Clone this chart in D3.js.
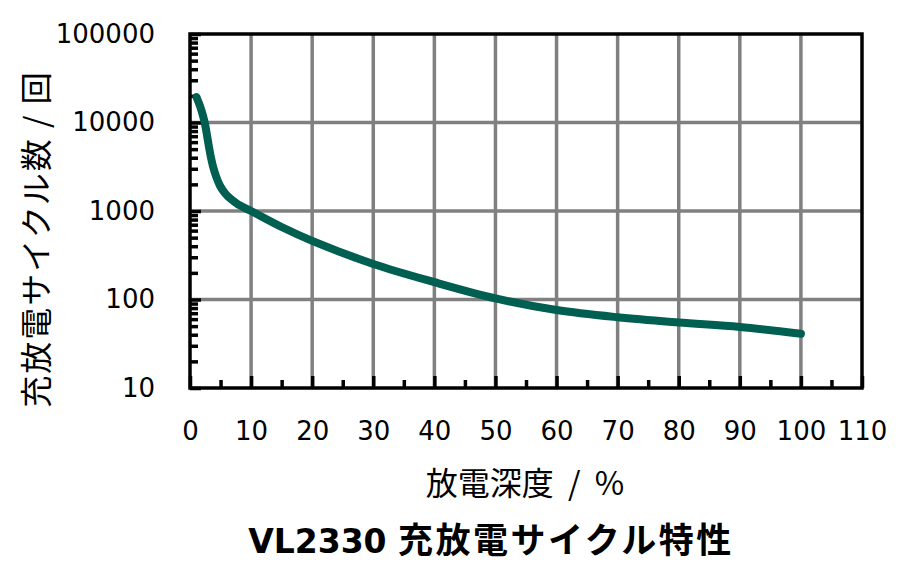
<!DOCTYPE html>
<html>
<head>
<meta charset="utf-8">
<script src="https://cdn.jsdelivr.net/npm/d3@7"></script>
<style>
  body { margin: 0; background: #fff; }
  svg { display: block; }
  .tick text { font-family: "DejaVu Sans", sans-serif; font-size: 26px; fill: #000; }
  .jp { font-family: "Noto Sans CJK JP", sans-serif; white-space: pre; }
</style>
</head>
<body>
<div id="chart-container"></div>
<script>
// charge/discharge cycle life vs depth of discharge
const depth = [1.06, 1.64, 2.13, 2.46, 2.78, 3.11, 3.44, 3.76, 4.26, 4.91, 5.73, 6.55, 7.86, 10, 15, 20, 30, 40, 50, 60, 70, 80, 90, 100];
const cycles = [19400, 15300, 11900, 9600, 7200, 5280, 4000, 3200, 2470, 1930, 1590, 1390, 1190, 1000, 660, 460, 252, 157, 103, 76, 63, 55, 49, 41];

const xTicks = [0, 10, 20, 30, 40, 50, 60, 70, 80, 90, 100, 110];
const xMinor = [5, 15, 25, 35, 45, 55, 65, 75, 85, 95, 105];
const yTicks = [10, 100, 1000, 10000, 100000];

const svgWidth = 900;
const svgHeight = 571;
const margin = { top: 34, right: 38, bottom: 183, left: 190 };
const width = svgWidth - margin.left - margin.right;
const height = svgHeight - margin.top - margin.bottom;

const svg = d3.select("#chart-container")
    .append("svg")
    .attr("width", svgWidth)
    .attr("height", svgHeight)
    .append("g")
    .attr("transform", `translate(${margin.left},${margin.top})`);

const x = d3.scaleLinear().domain([0, 110]).range([0, width]);
const y = d3.scaleLog().domain([10, 100000]).range([height, 0]);

// y minor ticks 2..9 per decade
const yMinor = [];
yTicks.slice(0, -1).forEach(d => {
    for (let k = 2; k <= 9; k++) yMinor.push(d * k);
});

// grid
svg.append("g")
    .selectAll("line.v")
    .data(xTicks.filter(d => d > 0 && d < 110))
    .join("line")
    .attr("x1", d => x(d)).attr("x2", d => x(d))
    .attr("y1", 0).attr("y2", height)
    .attr("stroke", "#808080").attr("stroke-width", 3.5);

svg.append("g")
    .selectAll("line.h")
    .data(yTicks.filter(d => d > 10 && d < 100000))
    .join("line")
    .attr("x1", 0).attr("x2", width)
    .attr("y1", d => y(d)).attr("y2", d => y(d))
    .attr("stroke", "#808080").attr("stroke-width", 3.5);

// axes
const yAxis = svg.append("g")
    .call(d3.axisLeft(y).tickValues(yTicks).tickFormat(d3.format("d")).tickSize(-11).tickPadding(35));
const yAxisMinor = svg.append("g")
    .call(d3.axisLeft(y).tickValues(yMinor).tickFormat("").tickSize(-8));

const xAxis = svg.append("g")
    .attr("transform", `translate(0,${height})`)
    .call(d3.axisBottom(x).tickValues(xTicks).tickSize(-12).tickPadding(34));
const xAxisMinor = svg.append("g")
    .attr("transform", `translate(0,${height})`)
    .call(d3.axisBottom(x).tickValues(xMinor).tickFormat("").tickSize(-8));

[yAxis, yAxisMinor, xAxis, xAxisMinor].forEach(g => {
    g.select(".domain").remove();
    g.selectAll(".tick line").attr("stroke", "#000").attr("stroke-width", 3.5);
});

// frame
svg.append("rect")
    .attr("x", 0).attr("y", 0)
    .attr("width", width).attr("height", height)
    .attr("fill", "none")
    .attr("stroke", "#000")
    .attr("stroke-width", 3.5);

// curve
const line = d3.line()
    .x((d, i) => x(depth[i]))
    .y(d => y(d))
    .curve(d3.curveCatmullRom.alpha(0.5));

svg.append("path")
    .datum(cycles)
    .attr("d", line)
    .attr("fill", "none")
    .attr("stroke", "#005f50")
    .attr("stroke-width", 8)
    .attr("stroke-linecap", "round")
    .attr("stroke-linejoin", "round");

// axis titles
svg.append("text")
    .attr("class", "jp")
    .text("放電深度  /  %")
    .attr("x", 525 - margin.left)
    .attr("y", 495 - margin.top)
    .attr("text-anchor", "middle")
    .attr("font-size", 32);

svg.append("text")
    .attr("class", "jp")
    .text("充放電サイクル数 / 回")
    .attr("transform", `translate(${48 - margin.left},${239 - margin.top}) rotate(-90)`)
    .attr("text-anchor", "middle")
    .attr("font-size", 32)
    .attr("letter-spacing", 2);

const title = svg.append("text")
    .attr("x", 491 - margin.left)
    .attr("y", 553 - margin.top)
    .attr("text-anchor", "middle")
    .attr("font-weight", "bold");
title.append("tspan")
    .text("VL2330 ")
    .attr("font-family", "DejaVu Sans")
    .attr("font-size", 33);
title.append("tspan")
    .text("充放電サイクル特性")
    .attr("class", "jp")
    .attr("font-size", 35)
    .attr("letter-spacing", 2.5);
</script>
</body>
</html>
